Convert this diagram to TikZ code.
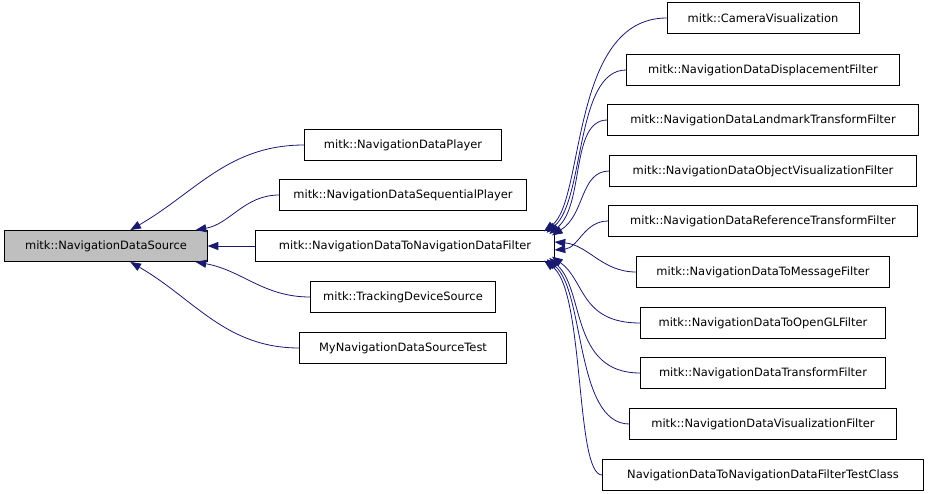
\documentclass[tikz,border=0pt]{standalone}
\usepackage{fontspec}
\setmainfont{DejaVu Sans}
\usetikzlibrary{arrows.meta,positioning}
\definecolor{edgeblue}{HTML}{191970}
\begin{document}
\begin{tikzpicture}[x=0.75pt,y=-0.75pt,
        cls/.style={rectangle, draw=black, fill=white, minimum height=23.5pt, inner sep=0pt, font=\fontsize{8.6}{10}\selectfont},
        edge/.style={{Triangle[length=8pt,width=6pt,fill=edgeblue]}-, draw=edgeblue, semithick}
    ]
        \useasboundingbox (0,0) rectangle (931,493);
        % base class
        \node[cls, fill=black!25, minimum width=152pt] (src) at (106,246) {mitk::NavigationDataSource};

        % direct subclasses
        \node[cls, minimum width=148pt] (player) at (403,145) {mitk::NavigationDataPlayer};
        \node[cls, minimum width=185pt] (seq) at (403,195) {mitk::NavigationDataSequentialPlayer};
        \node[cls, minimum width=224pt] (filter) at (405,246) {mitk::NavigationDataToNavigationDataFilter};
        \node[cls, minimum width=139pt] (tds) at (403,297) {mitk::TrackingDeviceSource};
        \node[cls, minimum width=155pt] (mytest) at (403,348) {MyNavigationDataSourceTest};

        % filter subclasses
        \node[cls, minimum width=144pt] (cam) at (763,18) {mitk::CameraVisualization};
        \node[cls, minimum width=205pt] (disp) at (763,70) {mitk::NavigationDataDisplacementFilter};
        \node[cls, minimum width=233pt] (land) at (763,120) {mitk::NavigationDataLandmarkTransformFilter};
        \node[cls, minimum width=230pt] (objvis) at (763,171) {mitk::NavigationDataObjectVisualizationFilter};
        \node[cls, minimum width=232pt] (ref) at (763,221) {mitk::NavigationDataReferenceTransformFilter};
        \node[cls, minimum width=190pt] (msg) at (763,272) {mitk::NavigationDataToMessageFilter};
        \node[cls, minimum width=184pt] (gl) at (763,323) {mitk::NavigationDataToOpenGLFilter};
        \node[cls, minimum width=184pt] (trf) at (763,373) {mitk::NavigationDataTransformFilter};
        \node[cls, minimum width=200pt] (vis) at (763,424) {mitk::NavigationDataVisualizationFilter};
        \node[cls, minimum width=241pt] (tcls) at (763,475) {NavigationDataToNavigationDataFilterTestClass};

        % inheritance arrows to the source
        \draw[edge] ([xshift=-58pt]src.north east) to[out=30,in=180] (player.west);
        \draw[edge] ([xshift=-9pt]src.north east) to[out=10,in=180] (seq.west);
        \draw[edge] (src.east) -- (filter.west);
        \draw[edge] ([xshift=-9pt]src.south east) to[out=-10,in=180] (tds.west);
        \draw[edge] ([xshift=-58pt]src.south east) to[out=-30,in=180] (mytest.west);

        % inheritance arrows to the filter
        \draw[edge] ([xshift=-8pt,yshift=-1pt]filter.north east) .. controls (585,200) and (570,18) .. (cam.west);
        \draw[edge] ([xshift=-6pt,yshift=-2pt]filter.north east) .. controls (585,200) and (575,70) .. (disp.west);
        \draw[edge] ([xshift=-4pt,yshift=-3pt]filter.north east) .. controls (585,205) and (570,120) .. (land.west);
        \draw[edge] ([xshift=-2pt,yshift=-4pt]filter.north east) .. controls (585,215) and (580,171) .. (objvis.west);
        \draw[edge] ([yshift=-3pt]filter.east) to[out=5,in=180] (ref.west);
        \draw[edge] ([yshift=3pt]filter.east) to[out=-5,in=180] (msg.west);
        \draw[edge] ([xshift=-2pt,yshift=4pt]filter.south east) .. controls (585,280) and (580,323) .. (gl.west);
        \draw[edge] ([xshift=-4pt,yshift=3pt]filter.south east) .. controls (585,290) and (570,373) .. (trf.west);
        \draw[edge] ([xshift=-6pt,yshift=2pt]filter.south east) .. controls (585,290) and (575,424) .. (vis.west);
        \draw[edge] ([xshift=-8pt,yshift=1pt]filter.south east) .. controls (585,290) and (575,475) .. (tcls.west);
    \end{tikzpicture}
\end{document}
